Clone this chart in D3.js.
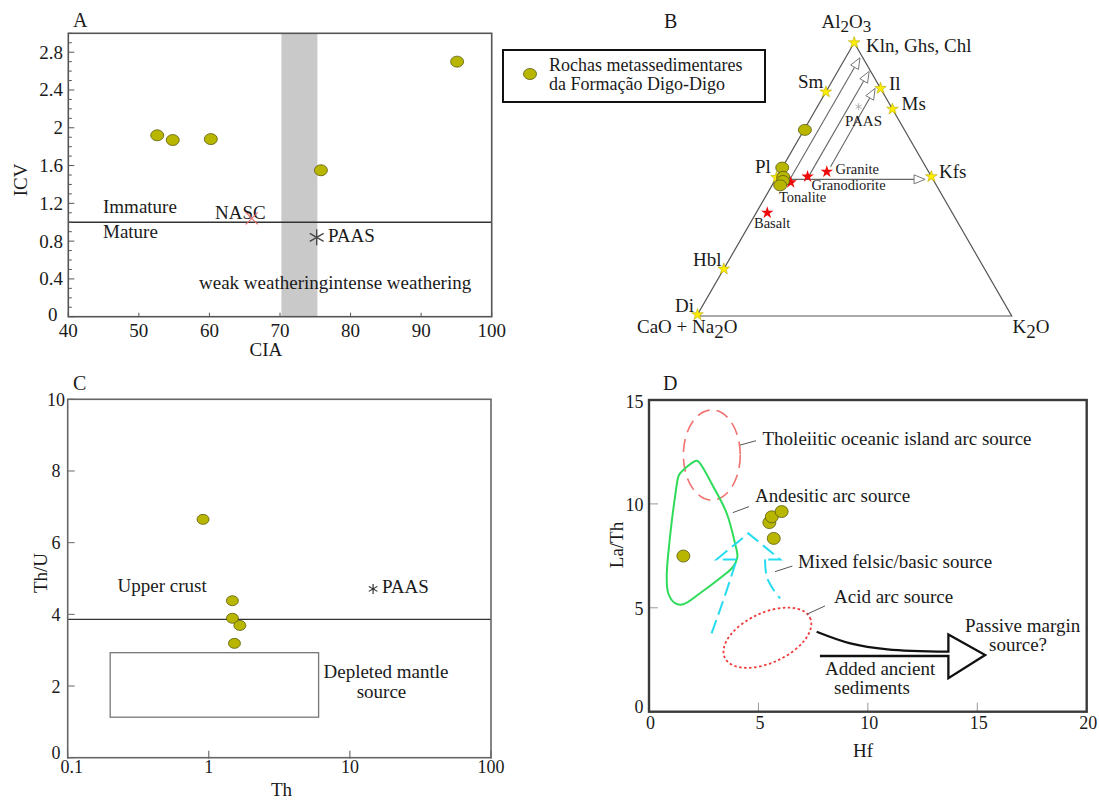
<!DOCTYPE html>
<html><head><meta charset="utf-8">
<script src="https://cdn.jsdelivr.net/npm/d3@7"></script>
<style>
body{margin:0;background:#fff}
text{font-family:"Liberation Serif","Times New Roman",serif;fill:#1a1a1a}
</style>
</head><body><svg id="c" width="1099" height="801"></svg>
<script>
// ---------- Panel A data (CIA vs ICV)
const aCIA = [52.6, 54.8, 60.2, 75.8, 95.1];
const aICV = [1.92, 1.87, 1.88, 1.55, 2.70];
const aXTicks = [40, 50, 60, 70, 80, 90, 100];
const aYTicks = [0, 0.4, 0.8, 1.2, 1.6, 2, 2.4, 2.8];
const aNASC = [66.0, 1.04];
const aPAAS = [75.2, 0.84];
const aBand = [70.2, 75.3];
const aMatureLine = 1.0;

// ---------- Panel B data (ternary: [Al2O3, CaO+Na2O, K2O])
const bMineralNames = ["Kln", "Sm", "Il", "Ms", "Kfs", "Pl", "Hbl", "Di"];
const bMinerals = [[1,0,0],[0.82,0.18,0],[0.833,0,0.167],[0.757,0,0.243],[0.51,0,0.49],[0.507,0.493,0],[0.172,0.828,0],[0.005,0.995,0]];
const bRockNames = ["Granite", "Granodiorite", "Tonalite", "Basalt"];
const bRocks = [[0.528,0.323,0.149],[0.51,0.393,0.097],[0.489,0.457,0.054],[0.378,0.587,0.035]];
const bPAAS = [0.766, 0.103, 0.131];
const bSamples = [[0.681,0.316,0.003],[0.543,0.457,0.0],[0.509,0.471,0.02],[0.494,0.479,0.027],[0.478,0.496,0.026]];
const bArrows = [
  [[0.5,0.454,0.046],[0.945,0.009,0.046]],
  [[0.51,0.39,0.10],[0.895,0.005,0.10]],
  [[0.546,0.302,0.152],[0.833,0.017,0.15]],
  [[0.5,0.455,0.045],[0.5,0.025,0.475]]
];

// ---------- Panel C data (Th vs Th/U)
const cTh = [0.91, 1.47, 1.47, 1.66, 1.52];
const cThU = [6.65, 4.38, 3.89, 3.69, 3.19];
const cPAAS = [14.6, 4.71];
const cUpperCrust = 3.86;
const cMantleBox = [[0.2, 1.13], [6.0, 2.93]];
const cXTicks = [0.1, 1, 10, 100];
const cYTicks = [0, 2, 4, 6, 8, 10];

// ---------- Panel D data (Hf vs La/Th)
const dHf = [1.57, 5.5, 5.61, 6.06, 5.7];
const dLaTh = [7.49, 9.1, 9.38, 9.63, 8.34];
const dXTicks = [0, 5, 10, 15, 20];
const dYTicks = [0, 5, 10, 15];
const dTholeiitic = {cx: 2.87, cy: 12.35, rx: 1.3, ry: 2.17};
const dAcid = {cx: 5.41, cy: 3.56, rx: 2.15, ry: 1.2, angle: -25};
const dAndesitic = [[1.42,11.47],[2.18,12.08],[2.33,11.95],[2.94,10.83],[3.55,9.55],[3.93,8.10],[4.04,7.46],[3.85,6.98],[3.24,6.42],[2.33,5.70],[1.57,5.17],[1.19,5.22],[0.88,5.70],[0.81,6.50],[0.96,8.42],[1.19,10.35],[1.34,11.31]];
const dMixedLeft = [[2.86,3.77],[3.40,5.37],[3.78,6.58],[4.01,7.33]];
const dMixedHead = [[4.01,7.33],[3.09,7.33],[4.54,8.58],[5.99,7.33],[5.30,7.33]];
const dMixedRight = [[5.30,7.33],[5.38,6.50],[5.70,5.85],[5.99,5.45]];
const dArrowCurve = [[7.66,3.85],[9.2,3.29],[10.9,3.0],[13.68,2.89]];
const dArrowHead = [[13.68,2.89],[13.68,3.72],[15.36,2.73],[13.68,1.61],[13.68,2.68],[7.81,2.68]];
const dLeaders = [[[4.16,12.83],[4.89,13.04]],[[3.83,9.58],[4.57,9.87]],[[5.76,6.74],[6.55,7.01]],[[7.23,4.70],[8.04,5.09]]];

const svg = d3.select("#c");
const FILL = "#b9b600", STROKE = "#5b5a10";

function sample(g, x, y, rx = 6.5, ry = 5.5) {
  g.append("ellipse").attr("cx", x).attr("cy", y).attr("rx", rx).attr("ry", ry)
    .attr("fill", FILL).attr("stroke", STROKE).attr("stroke-width", 0.8);
}
function asterisk(g, x, y, r, color, w) {
  for (let k = 0; k < 3; k++) {
    const a = Math.PI / 2 + k * Math.PI / 3;
    g.append("line").attr("x1", x - r * Math.cos(a)).attr("y1", y - r * Math.sin(a))
      .attr("x2", x + r * Math.cos(a)).attr("y2", y + r * Math.sin(a))
      .attr("stroke", color).attr("stroke-width", w);
  }
}
function txt(g, x, y, s, size = 19, anchor = "start") {
  return g.append("text").attr("x", x).attr("y", y).attr("font-size", size).attr("text-anchor", anchor).text(s);
}

// ================= Panel A
{
  const g = svg.append("g");
  const x = d3.scaleLinear().domain([40, 100]).range([68.3, 491.7]);
  const y = d3.scaleLinear().domain([0, 3]).range([316.7, 33.3]);
  g.append("rect").attr("x", x(aBand[0])).attr("y", y(3)).attr("width", x(aBand[1]) - x(aBand[0]))
    .attr("height", y(0) - y(3)).attr("fill", "#c9c9c9");
  g.append("line").attr("x1", x(40)).attr("x2", x(100)).attr("y1", y(aMatureLine)).attr("y2", y(aMatureLine))
    .attr("stroke", "#333").attr("stroke-width", 1.5);
  const yMinor = d3.range(0, 3.0001, 0.1);
  yMinor.forEach(v => {
    const major = aYTicks.some(t => Math.abs(t - v) < 1e-6);
    g.append("line").attr("x1", x(40)).attr("x2", x(40) + (major ? 6 : 3.5)).attr("y1", y(v)).attr("y2", y(v))
      .attr("stroke", "#555").attr("stroke-width", 1);
  });
  aYTicks.forEach(v => txt(g, v === 0 ? 57.5 : 63, y(v) + 6.5 - (v === 0 ? 2.5 : 0), String(v), 19, "end"));
  aXTicks.forEach(v => {
    g.append("line").attr("x1", x(v)).attr("x2", x(v)).attr("y1", y(0)).attr("y2", y(0) - 4).attr("stroke", "#555");
    txt(g, x(v), 337, String(v), 19, "middle");
  });
  g.append("rect").attr("x", x(40)).attr("y", y(3)).attr("width", x(100) - x(40)).attr("height", y(0) - y(3))
    .attr("fill", "none").attr("stroke", "#555").attr("stroke-width", 1.6);
  const nx = x(aNASC[0]), ny = y(aNASC[1]);
  txt(g, 215, 219, "NASC");
  g.append("path").attr("d", `M${nx-6},${ny-6}L${nx+6},${ny+6}M${nx-6},${ny+6}L${nx+6},${ny-6}`)
    .attr("stroke", "#e86a6a").attr("stroke-width", 1.1);
  asterisk(g, x(aPAAS[0]), y(aPAAS[1]), 8, "#444", 1.3);
  txt(g, 328, 242, "PAAS");
  txt(g, 103, 213, "Immature");
  txt(g, 103, 238, "Mature");
  txt(g, 199, 289, "weak weatheringintense weathering");
  aCIA.forEach((v, i) => sample(g, x(v), y(aICV[i])));
  txt(g, 73, 27, "A", 20);
  txt(g, 0, 0, "ICV", 19, "middle").attr("transform", "translate(27,180) rotate(-90)");
  txt(g, x(68), 356, "CIA", 19, "middle");
}

// ================= Legend
{
  const g = svg.append("g");
  g.append("rect").attr("x", 503).attr("y", 50).attr("width", 262).attr("height", 52)
    .attr("fill", "#fff").attr("stroke", "#111").attr("stroke-width", 2);
  sample(g, 530, 74);
  txt(g, 549, 71, "Rochas metassedimentares", 18);
  txt(g, 549, 89.5, "da Formação Digo-Digo", 18);
}

// ================= Panel B (ternary)
{
  const g = svg.append("g");
  const tx = d3.scaleLinear().domain([0, 1]).range([696.7, 1011.7]);
  const ty = d3.scaleLinear().domain([0, 1]).range([316, 42.7]);
  const P = d => [tx(d[2] + d[0] / 2), ty(d[0])];
  const tri = [[1,0,0],[0,1,0],[0,0,1]].map(P);
  g.append("path").attr("d", "M" + tri.join("L") + "Z").attr("fill", "none").attr("stroke", "#555").attr("stroke-width", 1.2);
  bArrows.forEach(([a, b]) => {
    const p0 = P(a), p1 = P(b);
    const dx = p1[0] - p0[0], dy = p1[1] - p0[1], L = Math.hypot(dx, dy);
    const ux = dx / L, uy = dy / L, hl = 11, hw = 4.5;
    const bx = p1[0] - ux * hl, by = p1[1] - uy * hl;
    g.append("line").attr("x1", p0[0]).attr("y1", p0[1]).attr("x2", bx).attr("y2", by)
      .attr("stroke", "#666").attr("stroke-width", 1.1);
    g.append("path").attr("d", `M${p1[0]},${p1[1]}L${bx - uy * hw},${by + ux * hw}L${bx + uy * hw},${by - ux * hw}Z`)
      .attr("fill", "#fff").attr("stroke", "#777").attr("stroke-width", 1);
  });
  const star = d3.symbol().type(d3.symbolStar);
  bMinerals.forEach(d => {
    const p = P(d);
    g.append("path").attr("d", star.size(42)()).attr("transform", `translate(${p})`)
      .attr("fill", "#ffee00").attr("stroke", "#b8a800").attr("stroke-width", 0.6);
  });
  bRocks.forEach(d => {
    const p = P(d);
    g.append("path").attr("d", star.size(48)()).attr("transform", `translate(${p})`).attr("fill", "#ee0a0a");
  });
  const pp = P(bPAAS);
  asterisk(g, pp[0], pp[1], 3.5, "#aaa", 0.9);
  bSamples.forEach(d => { const p = P(d); sample(g, p[0], p[1]); });

  txt(g, 664, 28, "B", 20);
  const al = g.append("text").attr("x", 821.5).attr("y", 28).attr("font-size", 19);
  al.append("tspan").text("Al");
  al.append("tspan").attr("dy", 3.5).attr("font-size", 17).text("2");
  al.append("tspan").attr("dy", -3.5).text("O");
  al.append("tspan").attr("dy", 3.5).attr("font-size", 17).text("3");
  txt(g, 866, 52, "Kln, Ghs, Chl");
  txt(g, 798, 88, "Sm");
  txt(g, 889, 90, "Il");
  txt(g, 901.5, 110, "Ms");
  txt(g, 845, 126, "PAAS", 15);
  txt(g, 755, 173, "Pl");
  txt(g, 939, 178, "Kfs");
  txt(g, 835.5, 174, "Granite", 14.5);
  txt(g, 811.5, 190, "Granodiorite", 14.5);
  txt(g, 779, 201.5, "Tonalite", 14.5);
  txt(g, 754, 228, "Basalt", 14.5);
  txt(g, 693, 266, "Hbl");
  txt(g, 675, 311.5, "Di");
  const cn = g.append("text").attr("x", 637).attr("y", 333).attr("font-size", 19);
  cn.append("tspan").text("CaO + Na");
  cn.append("tspan").attr("dy", 5).text("2");
  cn.append("tspan").attr("dy", -5).text("O");
  const k2 = g.append("text").attr("x", 1012.5).attr("y", 333).attr("font-size", 19);
  k2.append("tspan").text("K");
  k2.append("tspan").attr("dy", 5).text("2");
  k2.append("tspan").attr("dy", -5).text("O");
}

// ================= Panel C
{
  const g = svg.append("g");
  const x = d3.scaleLog().domain([0.1, 100]).range([67.7, 491]);
  const y = d3.scaleLinear().domain([0, 10]).range([757.7, 399.3]);
  g.append("line").attr("x1", x(0.1)).attr("x2", x(100)).attr("y1", y(cUpperCrust)).attr("y2", y(cUpperCrust))
    .attr("stroke", "#333").attr("stroke-width", 1.2);
  g.append("rect").attr("x", x(cMantleBox[0][0])).attr("y", y(cMantleBox[1][1]))
    .attr("width", x(cMantleBox[1][0]) - x(cMantleBox[0][0])).attr("height", y(cMantleBox[0][1]) - y(cMantleBox[1][1]))
    .attr("fill", "none").attr("stroke", "#777").attr("stroke-width", 1.3);
  cYTicks.forEach(v => {
    g.append("line").attr("x1", x(0.1)).attr("x2", x(0.1) + 7).attr("y1", y(v)).attr("y2", y(v)).attr("stroke", "#666");
    txt(g, 56, y(v) + (v === 0 ? 1.5 : 6.5), String(v), 18, "middle");
  });
  cXTicks.forEach((v, i) => {
    g.append("line").attr("x1", x(v)).attr("x2", x(v)).attr("y1", y(0) + 1).attr("y2", y(0) - 7).attr("stroke", "#555");
    txt(g, x(v) + (i === 0 ? 4 : 0), 773, String(v), 18, "middle");
  });
  g.append("rect").attr("x", x(0.1)).attr("y", y(10)).attr("width", x(100) - x(0.1)).attr("height", y(0) - y(10))
    .attr("fill", "none").attr("stroke", "#666").attr("stroke-width", 1.6);
  asterisk(g, x(cPAAS[0]), y(cPAAS[1]), 5, "#222", 1.1);
  txt(g, 382, 593, "PAAS");
  txt(g, 117.5, 591.5, "Upper crust");
  txt(g, 323.5, 678, "Depleted mantle");
  txt(g, 381.5, 698, "source", 19, "middle");
  cTh.forEach((v, i) => sample(g, x(v), y(cThU[i]), 6, 5));
  txt(g, 73, 390, "C", 20);
  txt(g, 0, 0, "Th/U", 19, "middle").attr("transform", "translate(47,573) rotate(-90)");
  txt(g, 281.5, 796, "Th", 19, "middle");
}

// ================= Panel D
{
  const g = svg.append("g");
  const x = d3.scaleLinear().domain([0, 20]).range([649, 1086.7]);
  const y = d3.scaleLinear().domain([0, 15]).range([711.7, 400]);
  dXTicks.slice(1, -1).forEach(v => g.append("line").attr("x1", x(v)).attr("x2", x(v)).attr("y1", y(0)).attr("y2", y(0) - 9)
    .attr("stroke", "#999").attr("stroke-width", 1));
  dYTicks.slice(1, -1).forEach(v => g.append("line").attr("x1", x(0)).attr("x2", x(0) + 9).attr("y1", y(v)).attr("y2", y(v))
    .attr("stroke", "#999").attr("stroke-width", 1));
  dXTicks.forEach(v => txt(g, x(v) + 1.5, 729, String(v), 18, "middle"));
  dYTicks.forEach(v => txt(g, 643.5, y(v) + (v === 0 ? 1 : 7.5), String(v), 18, "end"));
  g.append("rect").attr("x", x(0)).attr("y", y(15)).attr("width", x(20) - x(0)).attr("height", y(0) - y(15))
    .attr("fill", "none").attr("stroke", "#3a3a3a").attr("stroke-width", 2.4);

  g.append("ellipse").attr("cx", x(dTholeiitic.cx)).attr("cy", y(dTholeiitic.cy))
    .attr("rx", x(dTholeiitic.cx + dTholeiitic.rx) - x(dTholeiitic.cx))
    .attr("ry", y(dTholeiitic.cy - dTholeiitic.ry) - y(dTholeiitic.cy))
    .attr("fill", "none").attr("stroke", "#f27272").attr("stroke-width", 1.6).attr("stroke-dasharray", "13,7");
  g.append("path").attr("d", d3.line().x(d => x(d[0])).y(d => y(d[1])).curve(d3.curveCatmullRomClosed)(dAndesitic))
    .attr("fill", "none").attr("stroke", "#2fdc5a").attr("stroke-width", 2);
  const lineC = d3.line().x(d => x(d[0])).y(d => y(d[1])).curve(d3.curveCatmullRom);
  const lineL = d3.line().x(d => x(d[0])).y(d => y(d[1]));
  [lineC(dMixedLeft), lineL(dMixedHead), lineC(dMixedRight)].forEach(d =>
    g.append("path").attr("d", d).attr("fill", "none").attr("stroke", "#27dcf0").attr("stroke-width", 2)
      .attr("stroke-dasharray", "14,6"));
  g.append("ellipse").attr("transform", `translate(${x(dAcid.cx)},${y(dAcid.cy)}) rotate(${dAcid.angle})`)
    .attr("rx", x(dAcid.rx) - x(0)).attr("ry", y(0) - y(dAcid.ry))
    .attr("fill", "none").attr("stroke", "#f03a3a").attr("stroke-width", 1.8).attr("stroke-dasharray", "2.5,2.5");
  const curveD = d3.line().x(d => x(d[0])).y(d => y(d[1])).curve(d3.curveCatmullRom)(dArrowCurve);
  const headD = lineL(dArrowHead).replace(/^M/, "L");
  g.append("path").attr("d", curveD + headD).attr("fill", "none").attr("stroke", "#111").attr("stroke-width", 2.3)
    .attr("stroke-linejoin", "miter");
  dLeaders.forEach(([a, b]) => g.append("line").attr("x1", x(a[0])).attr("y1", y(a[1])).attr("x2", x(b[0])).attr("y2", y(b[1]))
    .attr("stroke", "#555").attr("stroke-width", 1));
  dHf.forEach((v, i) => sample(g, x(v), y(dLaTh[i]), 6.5, 6));

  txt(g, 762.5, 445, "Tholeiitic oceanic island arc source");
  txt(g, 755, 501.5, "Andesitic arc source");
  txt(g, 798, 568, "Mixed felsic/basic source");
  txt(g, 834, 603, "Acid arc source");
  txt(g, 965, 631.5, "Passive margin");
  txt(g, 989, 651, "source?");
  txt(g, 825, 675, "Added ancient");
  txt(g, 834, 694, "sediments");
  txt(g, 663, 390, "D", 20);
  txt(g, 0, 0, "La/Th", 19, "middle").attr("transform", "translate(623,545) rotate(-90)");
  txt(g, 863, 757, "Hf", 19, "middle");
}
</script></body></html>
